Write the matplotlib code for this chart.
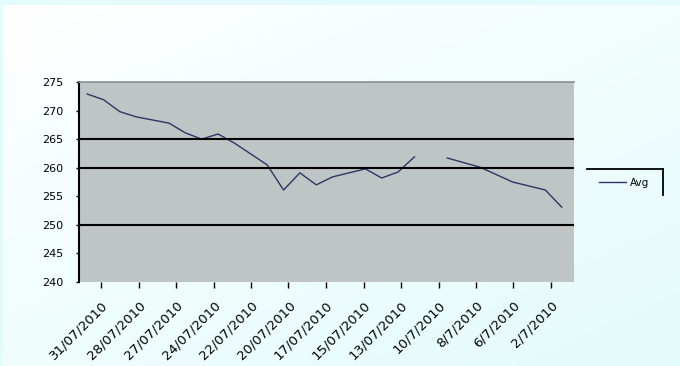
import datetime

import numpy as np
import matplotlib
matplotlib.use('Agg')
import matplotlib.pyplot as plt
import matplotlib.dates as mdates
from matplotlib.lines import Line2D


# readings per day of July 2010 (nan = missing day)
days = [31, 30, 29, 28, 26, 25, 24, 23, 22, 20, 19, 18, 17, 16,
        14, 13, 12, 11, 10, 9, 7, 5, 3, 2]
values = [272.9, 271.9, 269.8, 268.9, 267.8, 266.1, 265.0, 265.9, 264.3,
          260.5, 256.1, 259.1, 257.0, 258.4, 259.8, 258.2, 259.25, 261.9,
          np.nan, 261.7, 260.1, 257.5, 256.1, 253.1]
series_name = 'Avg'

tick_labels = ['31/07/2010', '28/07/2010', '27/07/2010', '24/07/2010',
               '22/07/2010', '20/07/2010', '17/07/2010', '15/07/2010',
               '13/07/2010', '10/7/2010', '8/7/2010', '6/7/2010', '2/7/2010']
y_ticks = [240, 245, 250, 255, 260, 265, 270, 275]
ref_levels = [265, 260, 250]


def july(day, hour=0):
    return datetime.datetime(2010, 7, day, hour)


figure = plt.figure(figsize=(6.8, 3.66), dpi=100)
figure.patch.set_facecolor('#e4fbfb')

# soft white -> cyan backdrop
bg = figure.add_axes([0.005, 0.0, 0.995, 0.986], zorder=-5)
gy, gx = np.mgrid[0:1:100j, 0:1:100j]
shade = np.clip(0.55 * gy + 0.45 * gx, 0, 1)
top = np.array([1.0, 1.0, 1.0])
bottom = np.array([0.89, 0.985, 0.985])
grad = top[None, None, :] * (1 - shade[..., None]) + bottom[None, None, :] * shade[..., None]
bg.imshow(grad, aspect='auto', extent=[0, 1, 0, 1], origin='upper')
bg.set_axis_off()

axes = figure.add_axes([79 / 680, 1 - 282 / 366, 495 / 680, 200 / 366])
axes.set_facecolor('#bfc5c4')

dates = [july(d) for d in days]
line, = axes.plot(dates, values, color='#2e3566', linewidth=1.0)

for level in ref_levels:
    axes.axhline(level, color='black', linewidth=1.5)

left, right = mdates.date2num(july(31, 12)), mdates.date2num(july(1, 6))
axes.set_xlim(left, right)
axes.set_ylim(min(y_ticks), max(y_ticks))
axes.set_yticks(y_ticks)
axes.set_yticklabels([str(v) for v in y_ticks], fontsize=8)

# category labels sit at an even step along the axis
frac = (np.linspace(101, 551, len(tick_labels)) - 79) / 495
axes.set_xticks(left + frac * (right - left))
axes.set_xticklabels(tick_labels, rotation=45, ha='right',
                     rotation_mode='anchor', fontsize=9.5)
axes.tick_params(axis='x', length=4, width=1, direction='out', pad=8)
axes.tick_params(axis='y', length=2, width=1, direction='out', pad=9)

axes.spines['left'].set_color('black')
axes.spines['left'].set_linewidth(1.5)
axes.spines['top'].set_color('#8a8f8f')
axes.spines['top'].set_linewidth(1.2)
axes.spines['right'].set_visible(False)
axes.spines['bottom'].set_visible(False)

# legend: frame only on top and right edges
legend = figure.legend([line], [series_name], loc='center',
                       bbox_to_anchor=(624 / 680, 1 - 183 / 366),
                       frameon=False, fontsize=7.5, handlelength=2.6,
                       handletextpad=0.4)
figure.add_artist(Line2D([587 / 680, 663 / 680], [1 - 169 / 366, 1 - 169 / 366],
                         transform=figure.transFigure, color='black', linewidth=1.3))
figure.add_artist(Line2D([663 / 680, 663 / 680], [1 - 169 / 366, 1 - 195 / 366],
                         transform=figure.transFigure, color='black', linewidth=1.3))

figure.savefig('out.png', dpi=100, facecolor=figure.get_facecolor())
